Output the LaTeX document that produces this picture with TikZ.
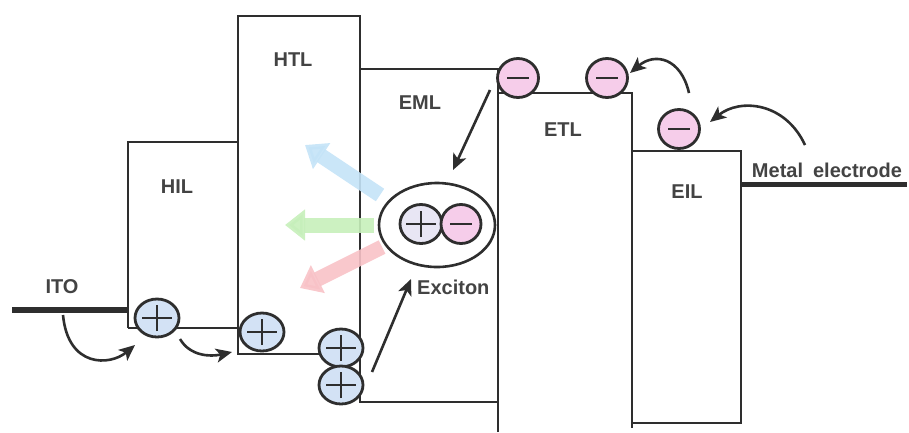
\documentclass[tikz,border=0pt]{standalone}
\usepackage{fontspec}
\setmainfont{Liberation Sans}
\usetikzlibrary{arrows.meta,shapes.geometric}
\definecolor{ink}{HTML}{2E2E2E}
\definecolor{holefill}{HTML}{D3E2F5}
\definecolor{elecfill}{HTML}{F6CDEA}
\definecolor{lblue}{HTML}{C4E3F7}
\definecolor{lgreen}{HTML}{C6EFBA}
\definecolor{lred}{HTML}{F8C2C7}
\tikzset{
  layer/.style={draw=ink, line width=2.3pt},
  electrode/.style={draw=ink, line width=6pt},
  lab/.style={font=\fontsize{20}{24}\selectfont\bfseries, text=ink!90, inner sep=0pt},
  hole/.style={ellipse, draw=ink, line width=2.8pt, fill=holefill, minimum width=44pt, minimum height=38pt, inner sep=0pt,
    path picture={\draw[ink,line width=2.4pt]
      ([xshift=-15pt]path picture bounding box.center) -- ([xshift=15pt]path picture bounding box.center)
      ([yshift=-13pt]path picture bounding box.center) -- ([yshift=13pt]path picture bounding box.center);}},
  elec/.style={ellipse, draw=ink, line width=2.8pt, fill=elecfill, minimum width=41pt, minimum height=39pt, inner sep=0pt,
    path picture={\draw[ink,line width=2.4pt]
      ([xshift=-11pt]path picture bounding box.center) -- ([xshift=11pt]path picture bounding box.center);}},
  darrow/.style={draw=ink, line width=2.6pt, -{Stealth[length=16pt,width=14pt,inset=4pt]}},
  lightarrow/.style={line width=15pt, opacity=0.9, -{Triangle[length=20pt,width=30pt]}}
}
\begin{document}
\begin{tikzpicture}[x=1pt,y=-1pt]
\useasboundingbox (0,0) rectangle (909,432);
% layers
\draw[layer] (128,328) -- (128,142) -- (238,142);
\draw[layer] (128,328) -- (238,328);
\draw[layer] (238,354) -- (238,16) -- (360,16) -- (360,354) -- cycle;
\draw[layer] (360,402) -- (360,69) -- (498,69) -- (498,402) -- cycle;
\draw[layer] (498,432) -- (498,93) -- (632,93) -- (632,428);
\draw[layer] (632,151) rectangle (741,423);
% electrodes
\draw[electrode] (12,310) -- (128,310);
\draw[electrode, line width=5pt] (741,184) -- (907,184);
% labels
\node[lab] (ito) at (62,287) {ITO};
\node[lab] (hil) at (177,187) {HIL};
\node[lab] (htl) at (293,60) {HTL};
\node[lab] (eml) at (420,103) {EML};
\node[lab] (etl) at (563,130) {ETL};
\node[lab] (eil) at (687,192) {EIL};
\node[lab, anchor=west] (exl) at (417,287) {Exciton};
\node[lab] (metal) at (827,170) {Metal\hskip 10pt electrode};
% light emission arrows
\coordinate (bs) at (380,195); \coordinate (be) at (305,145);
\coordinate (gs) at (374,225); \coordinate (ge) at (285,225);
\coordinate (rs) at (382,247); \coordinate (re) at (300,288);
\draw[lightarrow, lblue] (bs) -- (be);
\draw[lightarrow, lgreen] (gs) -- (ge);
\draw[lightarrow, lred] (rs) -- (re);
% exciton
\node[ellipse, draw=ink, line width=2.6pt, fill=white, minimum width=116pt, minimum height=84pt] (exc) at (437,225) {};
\node[hole, fill=holefill!85!violet!40, minimum width=42pt, minimum height=39pt] (xh) at (421,224) {};
\node[elec, minimum width=40pt, minimum height=39pt] (xe) at (461,224) {};
% charges
\node[hole] (h1) at (157,318) {};
\node[hole] (h2) at (262,332) {};
\node[hole] (h3) at (341,348) {};
\node[hole] (h4) at (341,385) {};
\node[elec] (e1) at (518,78) {};
\node[elec] (e2) at (607,78) {};
\node[elec] (e3) at (679,129) {};
% transport arrows
\coordinate (a1s) at (490,90); \coordinate (a1e) at (453,170);
\draw[darrow] (a1s) -- (a1e);
\coordinate (a2s) at (372,372); \coordinate (a2e) at (411,279);
\draw[darrow] (a2s) -- (a2e);
\coordinate (c1s) at (63,315); \coordinate (c1e) at (135,345);
\draw[darrow] (c1s) .. controls (68,368) and (110,366) .. (c1e);
\coordinate (c2s) at (180,339); \coordinate (c2e) at (232,352);
\draw[darrow] (c2s) .. controls (190,356) and (210,357) .. (c2e);
\coordinate (c3s) at (805,145); \coordinate (c3e) at (710,122);
\draw[darrow] (c3s) .. controls (785,102) and (740,98) .. (c3e);
\coordinate (c4s) at (689,93); \coordinate (c4e) at (630,73);
\draw[darrow] (c4s) .. controls (681,58) and (655,52) .. (c4e);
\end{tikzpicture}
\end{document}
